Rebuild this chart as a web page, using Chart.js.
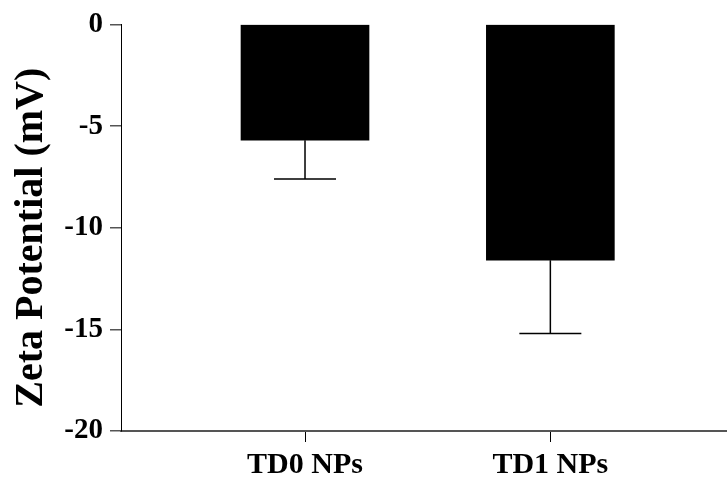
<!DOCTYPE html>
<html>
<head>
<meta charset="utf-8">
<script src="https://cdn.jsdelivr.net/npm/chart.js@4"></script>
<style>
  html, body { margin: 0; padding: 0; background: #fff; }
  #wrap { width: 727px; height: 481px; }
</style>
</head>
<body>
<div id="wrap"><canvas id="grafico"></canvas></div>
<script>
// dados
const categorias = ['TD0 NPs', 'TD1 NPs'];
const posicoes = [1, 2];
const medias = [-5.7, -11.6];
const erros = [1.9, 3.6];
const yTicks = [0, -5, -10, -15, -20];

const FONTE = '"Liberation Serif", "Times New Roman", serif';

// barras de erro (só para baixo)
const barrasDeErro = {
  id: 'barrasDeErro',
  afterDatasetsDraw(chart) {
    const { ctx, scales: { x, y } } = chart;
    ctx.save();
    ctx.strokeStyle = '#000';
    ctx.lineWidth = 1.5;
    medias.forEach((m, i) => {
      const px = x.getPixelForValue(posicoes[i]);
      const y0 = y.getPixelForValue(m);
      const y1 = y.getPixelForValue(m - erros[i]);
      ctx.beginPath();
      ctx.moveTo(px, y0);
      ctx.lineTo(px, y1);
      ctx.moveTo(px - 31, y1);
      ctx.lineTo(px + 31, y1);
      ctx.stroke();
    });
    ctx.restore();
  }
};

new Chart(document.getElementById('grafico'), {
  type: 'bar',
  data: {
    datasets: [{
      data: medias.map((v, i) => ({ x: posicoes[i], y: v })),
      backgroundColor: '#000',
      borderWidth: 0,
      barThickness: 128
    }]
  },
  options: {
    responsive: true,
    maintainAspectRatio: false,
    animation: false,
    layout: { padding: { top: 21, left: 0, right: 0, bottom: 0 } },
    plugins: { legend: { display: false }, tooltip: { enabled: false } },
    scales: {
      x: {
        type: 'linear',
        offset: false,
        min: 0.25,
        max: 2.72,
        afterBuildTicks: s => { s.ticks = posicoes.map(v => ({ value: v })); },
        afterFit: s => { s.height = 50; },
        border: { color: '#555', width: 2 },
        grid: { offset: false, drawOnChartArea: false, color: '#000', tickLength: 11, lineWidth: 1 },
        ticks: {
          color: '#000',
          padding: 5,
          maxRotation: 0,
          font: { family: FONTE, size: 30, weight: 'bold' },
          callback: v => categorias[posicoes.indexOf(v)] || ''
        }
      },
      y: {
        min: -20,
        max: 0,
        afterBuildTicks: s => { s.ticks = yTicks.map(v => ({ value: v })); },
        afterFit: s => { s.width = 121; },
        border: { color: '#000', width: 1 },
        grid: { drawOnChartArea: false, color: '#555', tickLength: 11, lineWidth: 1.5 },
        ticks: {
          color: '#000',
          padding: 7,
          font: { family: FONTE, size: 29, weight: 'bold' }
        },
        title: {
          display: true,
          text: 'Zeta Potential (mV)  ',
          color: '#000',
          padding: { top: 8, bottom: 0 },
          font: { family: FONTE, size: 40, weight: 'bold' }
        }
      }
    }
  },
  plugins: [barrasDeErro]
});
</script>
</body>
</html>
